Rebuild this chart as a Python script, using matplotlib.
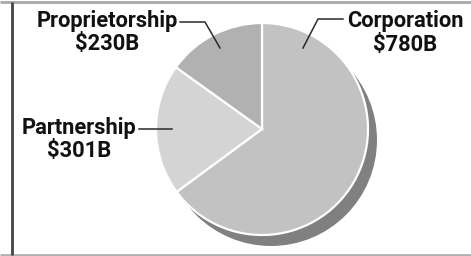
import matplotlib
matplotlib.use("Agg")
import matplotlib.pyplot as plt
from matplotlib.patches import Circle

# ---- data ----
categories = ["Corporation", "Partnership", "Proprietorship"]
amounts_billion = [780, 301, 230]
# slice shares as drawn in the picture (percent of the circle)
drawn_share_pct = [64.9, 20.0, 15.1]
value_labels = ["$780B", "$301B", "$230B"]
colors = ["#c2c2c2", "#d4d4d4", "#b1b1b1"]

W, H = 471, 256
fig = plt.figure(figsize=(W / 100, H / 100), dpi=100)
ax = fig.add_axes([0, 0, 1, 1])
ax.set_xlim(0, W)
ax.set_ylim(0, H)
ax.set_aspect("equal")
ax.axis("off")

def Y(y):  # image y (down) -> data y (up)
    return H - y

cx, cy, r = 262, Y(129), 106

# shadow
ax.add_patch(Circle((cx + 9, cy - 11), r, facecolor="#808080", edgecolor="none", zorder=1))

wedges, _ = ax.pie(drawn_share_pct, colors=colors, startangle=90, counterclock=False,
                   center=(cx, cy), radius=r, frame=True,
                   wedgeprops=dict(edgecolor="white", linewidth=1.6))
for w in wedges:
    w.set_zorder(2)
ax.set_xlim(0, W)
ax.set_ylim(0, H)
ax.axis("off")

# frame lines
ax.plot([0, W], [Y(1.5), Y(1.5)], color="#a8a8a8", lw=2, zorder=5, solid_capstyle="butt")
ax.plot([0, W], [Y(254.5), Y(254.5)], color="#b0b0b0", lw=2, zorder=5, solid_capstyle="butt")
ax.plot([12, 12], [Y(1.5), Y(255)], color="#444444", lw=2, zorder=5, solid_capstyle="butt")

# label text
font = dict(family=["Roboto", "DejaVu Sans"], weight="bold", color="#111111")
fs = 14.5
labels = {
    "Corporation": (405, 27, 51),
    "Partnership": (79, 134, 157),
    "Proprietorship": (107, 27, 50),
}
texts = []
for i, name in enumerate(categories):
    x, b1, b2 = labels[name]
    t1 = ax.text(x, Y(b1), name, ha="center", va="baseline", fontsize=fs, zorder=6, **font)
    t2 = ax.text(x, Y(b2), value_labels[i], ha="center", va="baseline", fontsize=fs, zorder=6, **font)
    texts += [t1, t2]

# fit font size so "Proprietorship" is ~142 px wide
fig.canvas.draw()
rend = fig.canvas.get_renderer()
ref = [t for t in texts if t.get_text() == "Proprietorship"][0]
wpx = ref.get_window_extent(rend).width
scale = 142 / wpx
for t in texts:
    t.set_fontsize(fs * scale)

# leader lines
lc = dict(color="#2a2a2a", lw=1.1, zorder=6)
ax.plot([180, 205, 220], [Y(22), Y(22), Y(48)], **lc)
ax.plot([343, 318, 303], [Y(19), Y(19), Y(48)], **lc)
ax.plot([139, 172], [Y(129), Y(129)], **lc)

fig.savefig("out.png", dpi=100, facecolor="white")
